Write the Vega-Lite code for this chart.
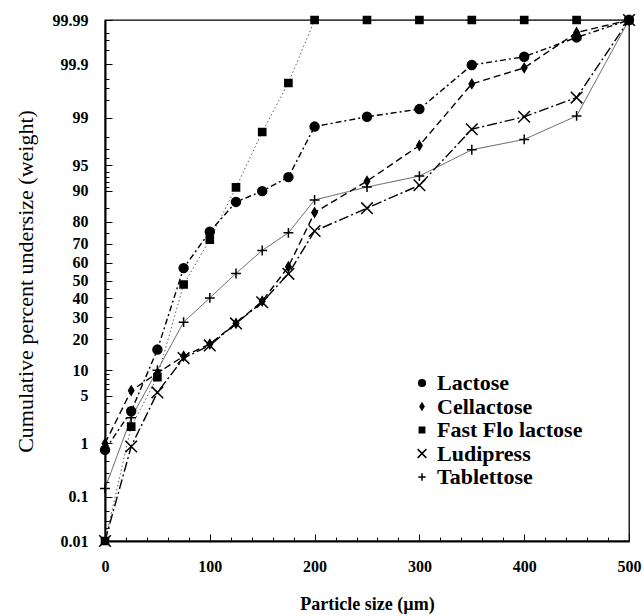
{
  "$schema": "https://vega.github.io/schema/vega-lite/v6.json",
  "width": 524,
  "height": 521,
  "autosize": "none",
  "padding": {"left": 105, "top": 20, "right": 15, "bottom": 75},
  "background": "white",
  "config": {
    "view": {"stroke": "black", "strokeWidth": 1.3},
    "font": "Liberation Serif"
  },
  "data": {
    "values": [
      {"s": "Lactose", "x": 0, "pct": 0.78},
      {"s": "Lactose", "x": 25, "pct": 3.1},
      {"s": "Lactose", "x": 50, "pct": 16.2},
      {"s": "Lactose", "x": 75, "pct": 57},
      {"s": "Lactose", "x": 100, "pct": 75.7},
      {"s": "Lactose", "x": 125, "pct": 86.9},
      {"s": "Lactose", "x": 150, "pct": 89.9},
      {"s": "Lactose", "x": 175, "pct": 93},
      {"s": "Lactose", "x": 200, "pct": 98.6},
      {"s": "Lactose", "x": 250, "pct": 99.03},
      {"s": "Lactose", "x": 300, "pct": 99.28},
      {"s": "Lactose", "x": 350, "pct": 99.895},
      {"s": "Lactose", "x": 400, "pct": 99.93},
      {"s": "Lactose", "x": 450, "pct": 99.974},
      {"s": "Lactose", "x": 500, "pct": 99.99},
      {"s": "Cellactose", "x": 0, "pct": 1.0},
      {"s": "Cellactose", "x": 25, "pct": 5.8},
      {"s": "Cellactose", "x": 50, "pct": 9.3},
      {"s": "Cellactose", "x": 75, "pct": 14},
      {"s": "Cellactose", "x": 100, "pct": 18.2},
      {"s": "Cellactose", "x": 125, "pct": 27},
      {"s": "Cellactose", "x": 150, "pct": 38.4},
      {"s": "Cellactose", "x": 175, "pct": 57.8},
      {"s": "Cellactose", "x": 200, "pct": 83.4},
      {"s": "Cellactose", "x": 250, "pct": 92.2},
      {"s": "Cellactose", "x": 300, "pct": 97.3},
      {"s": "Cellactose", "x": 350, "pct": 99.75},
      {"s": "Cellactose", "x": 400, "pct": 99.88},
      {"s": "Cellactose", "x": 450, "pct": 99.98},
      {"s": "Cellactose", "x": 500, "pct": 99.99},
      {"s": "Fast Flo lactose", "x": 0, "pct": 0.01},
      {"s": "Fast Flo lactose", "x": 25, "pct": 1.85},
      {"s": "Fast Flo lactose", "x": 50, "pct": 8.4},
      {"s": "Fast Flo lactose", "x": 75, "pct": 47.7},
      {"s": "Fast Flo lactose", "x": 100, "pct": 72},
      {"s": "Fast Flo lactose", "x": 125, "pct": 90.8},
      {"s": "Fast Flo lactose", "x": 150, "pct": 98.3},
      {"s": "Fast Flo lactose", "x": 175, "pct": 99.76},
      {"s": "Fast Flo lactose", "x": 200, "pct": 99.99},
      {"s": "Fast Flo lactose", "x": 250, "pct": 99.99},
      {"s": "Fast Flo lactose", "x": 300, "pct": 99.99},
      {"s": "Fast Flo lactose", "x": 350, "pct": 99.99},
      {"s": "Fast Flo lactose", "x": 400, "pct": 99.99},
      {"s": "Fast Flo lactose", "x": 450, "pct": 99.99},
      {"s": "Fast Flo lactose", "x": 500, "pct": 99.99},
      {"s": "Ludipress", "x": 0, "pct": 0.01},
      {"s": "Ludipress", "x": 25, "pct": 0.89},
      {"s": "Ludipress", "x": 50, "pct": 5.5},
      {"s": "Ludipress", "x": 75, "pct": 13.4},
      {"s": "Ludipress", "x": 100, "pct": 17.7},
      {"s": "Ludipress", "x": 125, "pct": 27},
      {"s": "Ludipress", "x": 150, "pct": 37.8},
      {"s": "Ludipress", "x": 175, "pct": 53.8},
      {"s": "Ludipress", "x": 200, "pct": 76},
      {"s": "Ludipress", "x": 250, "pct": 84.9},
      {"s": "Ludipress", "x": 300, "pct": 91.3},
      {"s": "Ludipress", "x": 350, "pct": 98.46},
      {"s": "Ludipress", "x": 400, "pct": 99.03},
      {"s": "Ludipress", "x": 450, "pct": 99.55},
      {"s": "Ludipress", "x": 500, "pct": 99.99},
      {"s": "Tablettose", "x": 0, "pct": 0.15},
      {"s": "Tablettose", "x": 25, "pct": 2.5},
      {"s": "Tablettose", "x": 50, "pct": 10},
      {"s": "Tablettose", "x": 75, "pct": 27.6},
      {"s": "Tablettose", "x": 100, "pct": 40.2},
      {"s": "Tablettose", "x": 125, "pct": 54},
      {"s": "Tablettose", "x": 150, "pct": 66.6},
      {"s": "Tablettose", "x": 175, "pct": 75.2},
      {"s": "Tablettose", "x": 200, "pct": 87.5},
      {"s": "Tablettose", "x": 250, "pct": 90.9},
      {"s": "Tablettose", "x": 300, "pct": 93.2},
      {"s": "Tablettose", "x": 350, "pct": 96.9},
      {"s": "Tablettose", "x": 400, "pct": 97.8},
      {"s": "Tablettose", "x": 450, "pct": 99.06},
      {"s": "Tablettose", "x": 500, "pct": 99.99}
    ]
  },
  "transform": [
    {"calculate": "quantileNormal(datum.pct / 100)", "as": "z"}
  ],
  "encoding": {
    "x": {
      "field": "x",
      "type": "quantitative",
      "scale": {"domain": [0, 500], "nice": false, "zero": false},
      "axis": {
        "title": "Particle size (µm)",
        "values": [0,20,40,60,80,100,120,140,160,180,200,220,240,260,280,300,320,340,360,380,400,420,440,460,480,500],
        "labelExpr": "datum.value % 100 === 0 ? datum.label : ''",
        "grid": false,
        "domainColor": "black",
        "domainWidth": 2,
        "tickColor": "black",
        "tickWidth": 1,
        "tickSize": {"condition": {"test": "datum.value % 100 === 0", "value": -7}, "value": -4},
        "labelPadding": 24,
        "labelFont": "Liberation Serif",
        "labelFontSize": 16,
        "labelFontWeight": "bold",
        "labelColor": "black",
        "labelOverlap": false,
        "labelFlush": false,
        "titleFont": "Liberation Serif",
        "titleFontSize": 18,
        "titleFontWeight": "bold",
        "titleColor": "black",
        "titlePadding": 18
      }
    },
    "y": {
      "field": "z",
      "type": "quantitative",
      "scale": {"domain": [-3.71902, 3.71902], "nice": false, "zero": false},
      "axis": {
        "title": "Cumulative percent undersize (weight)",
        "values": [-3.71902,-3.54008,-3.43161,-3.29053,-3.09023,-2.87816,-2.74778,-2.57583,-2.32635,-2.05375,-1.88079,-1.75069,-1.64485,-1.55477,-1.47579,-1.40507,-1.34076,-1.28155,-1.03643,-0.84162,-0.67449,-0.5244,-0.38532,-0.25335,-0.12566,0,0.12566,0.25335,0.38532,0.5244,0.67449,0.84162,1.03643,1.28155,1.34076,1.40507,1.47579,1.55477,1.64485,1.75069,1.88079,2.05375,2.32635,2.57583,2.74778,2.87816,3.09023,3.29053,3.43161,3.54008,3.71902],
        "labelExpr": "indexof(['0.01','0.1','1','5','10','20','30','40','50','60','70','80','90','95','99','99.9','99.99'], format(cumulativeNormal(datum.value) * 100, '.4~r')) >= 0 ? format(cumulativeNormal(datum.value) * 100, '.4~r') : ''",
        "grid": false,
        "domainColor": "black",
        "domainWidth": 2,
        "tickColor": "black",
        "tickWidth": 1,
        "tickSize": {"condition": {"test": "indexof(['0.01','0.1','1','5','10','20','30','40','50','60','70','80','90','95','99','99.9','99.99'], format(cumulativeNormal(datum.value) * 100, '.4~r')) >= 0", "value": -7}, "value": -4},
        "labelPadding": 24,
        "labelFont": "Liberation Serif",
        "labelFontSize": 16,
        "labelFontWeight": "bold",
        "labelColor": "black",
        "labelOverlap": false,
        "labelFlush": false,
        "labelBound": false,
        "titleFont": "Liberation Serif",
        "titleFontSize": 22,
        "titleFontWeight": "normal",
        "titleColor": "black",
        "titleX": -80,
        "titleY": 261,
        "titleAlign": "center",
        "titleBaseline": "middle",
        "titleAngle": -90
      }
    }
  },
  "layer": [
    {
      "transform": [{"filter": {"field": "s", "oneOf": ["Lactose", "Cellactose", "Ludipress"]}}],
      "mark": {"type": "line", "color": "black", "strokeWidth": 1.4, "clip": false},
      "encoding": {
        "strokeDash": {
          "field": "s",
          "type": "nominal",
          "scale": {
            "range": [[7, 4], [1.5, 2.5], [6, 3, 2, 3], [10, 3, 2, 3], [1, 0]]
          },
          "legend": null
        }
      }
    },
    {
      "transform": [{"filter": {"field": "s", "oneOf": ["Fast Flo lactose", "Tablettose"]}}],
      "mark": {"type": "line", "color": "#333333", "strokeWidth": 0.8, "clip": false},
      "encoding": {
        "strokeDash": {
          "field": "s",
          "type": "nominal",
          "legend": null
        }
      }
    },
    {
      "mark": {"type": "point", "filled": true, "fill": "black", "stroke": "black", "strokeWidth": 1.5, "size": 80, "opacity": 1, "clip": false},
      "encoding": {
        "shape": {
          "field": "s",
          "type": "nominal",
          "scale": {
            "domain": ["Lactose", "Cellactose", "Fast Flo lactose", "Ludipress", "Tablettose"],
            "range": ["circle", "M0,-1L0.6,0L0,1L-0.6,0Z", "M-0.8,-0.8L0.8,-0.8L0.8,0.8L-0.8,0.8Z", "M-1.3,-1.3L1.3,1.3M1.3,-1.3L-1.3,1.3", "M-1.1,0L1.1,0M0,-1.1L0,1.1"]
          },
          "legend": {
            "orient": "none",
            "legendX": 306,
            "legendY": 352,
            "title": null,
            "labelFont": "Liberation Serif",
            "labelFontSize": 22,
            "labelFontWeight": "bold",
            "labelColor": "black",
            "labelOffset": 4,
            "rowPadding": 1.5,
            "symbolSize": 45
          }
        }
      }
    }
  ]
}
